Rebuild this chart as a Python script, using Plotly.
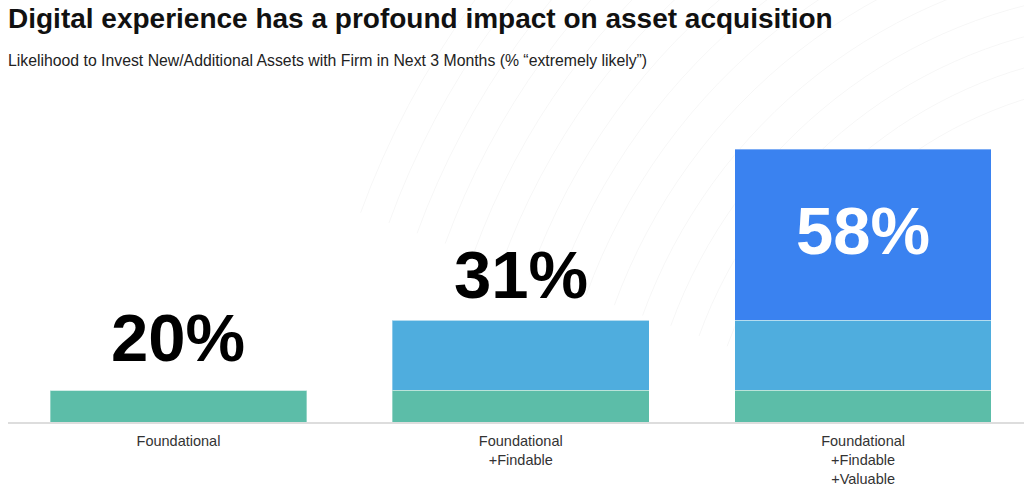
import math
import plotly.graph_objects as go

# --- Daten ---
categories = ["Foundational", "Foundational<br>+Findable", "Foundational<br>+Findable<br>+Valuable"]
totals = [20, 31, 58]
foundational = [20, 20, 20]
findable = [0, 11, 11]
valuable = [0, 0, 27]
total_labels = ["20%", "31%", "58%"]

x = list(range(len(categories)))

fig = go.Figure()

layers = [
    (foundational, "#5cbda8"),
    (findable, "#4fadde"),
    (valuable, "#3a82f0"),
]
for vals, color in layers:
    fig.add_trace(go.Bar(
        x=x, y=vals, width=0.75,
        marker=dict(color=color, line=dict(color="rgba(255,255,255,0.35)", width=1)),
        hoverinfo="skip", showlegend=False
    ))

# --- Prozent-Labels ---
label_shift = [53, 46, -81]
label_color = ["#000000", "#000000", "#ffffff"]
for i, txt in enumerate(total_labels):
    fig.add_annotation(
        x=x[i], y=totals[i], text=f"<b>{txt}</b>", showarrow=False,
        yanchor="middle", yshift=label_shift[i],
        font=dict(family="Liberation Sans, Arial", size=67, color=label_color[i])
    )

# --- dezente Wellen im Hintergrund (nur Deko) ---
def px_to_paper(px, py):
    return (px - 8) / 1016, (421.7 - py) / 321.7

for r in range(420, 850, 30):
    pts = []
    for step in range(0, 46):
        th = math.radians(70 + step * 2)
        pts.append(px_to_paper(1150 + r * math.cos(th), 500 - r * math.sin(th)))
    path = "M " + " L ".join(f"{a:.4f},{b:.4f}" for a, b in pts)
    fig.add_shape(type="path", path=path, xref="paper", yref="paper",
                  line=dict(color="rgba(0,0,0,0.035)", width=1), layer="below")

fig.update_layout(
    barmode="stack",
    width=1024, height=488,
    margin=dict(l=8, r=0, t=100, b=66),
    paper_bgcolor="white", plot_bgcolor="rgba(0,0,0,0)",
    font=dict(family="Liberation Sans, Arial", color="#333333"),
    xaxis=dict(
        range=[-0.498, 2.47], tickvals=x, ticktext=categories,
        showline=True, linecolor="#dddddd", linewidth=1.5,
        showgrid=False, zeroline=False, ticks="",
        ticklabelstandoff=5,
        tickfont=dict(size=14.5, color="#333333")
    ),
    yaxis=dict(range=[15, 65.74], visible=False, showgrid=False),
)

fig.add_annotation(
    xref="paper", yref="paper", x=0, y=1, xshift=-2, yshift=82,
    xanchor="left", yanchor="middle", showarrow=False,
    text="<b>Digital experience has a profound impact on asset acquisition</b>",
    font=dict(family="Liberation Sans, Arial", size=28, color="#111111")
)
fig.add_annotation(
    xref="paper", yref="paper", x=0, y=1, xshift=-2, yshift=40,
    xanchor="left", yanchor="middle", showarrow=False,
    text="Likelihood to Invest New/Additional Assets with Firm in Next 3 Months (% “extremely likely”)",
    font=dict(family="Liberation Sans, Arial", size=15.8, color="#222222")
)

fig.write_html("out.html", config={"displayModeBar": False},
               post_script="document.body.style.margin='0';")
